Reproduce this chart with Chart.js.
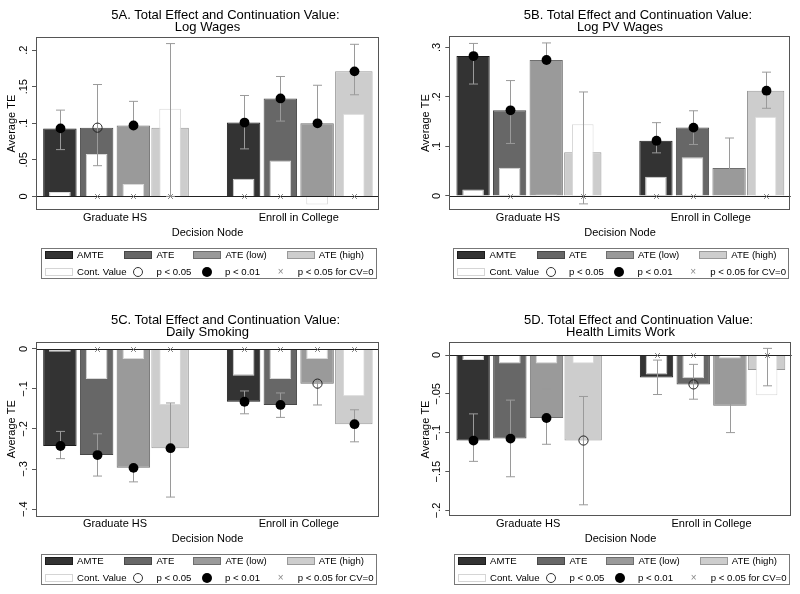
<!DOCTYPE html>
<html>
<head>
<meta charset="utf-8">
<title>Total Effect and Continuation Value</title>
<script src="https://cdn.jsdelivr.net/npm/chart.js@4.4.1/dist/chart.umd.min.js"></script>
<style>
  html, body { margin: 0; padding: 0; background: #fff; }
  body { font-family: "Liberation Sans", Arial, Helvetica, sans-serif; color: #000; }
  #figure { position: relative; width: 800px; height: 594px; overflow: hidden; }
  .panel { position: absolute; width: 400px; height: 289px; }
  .panel canvas { position: absolute; left: 0; top: 0; }
  .title-line { position: absolute; font-size: 13px; line-height: 14px; white-space: nowrap; transform: translateX(-50%); }
  .legend { position: absolute; width: 336px; height: 31px; border: 1px solid #777; box-sizing: border-box; font-size: 9.6px; }
  .legend .txt { position: absolute; white-space: nowrap; line-height: 12px; }
  .legend .sw { position: absolute; width: 28px; height: 8px; box-sizing: border-box; border: 1px solid; }
  .legend .ring { position: absolute; width: 10px; height: 10px; box-sizing: border-box; border: 1px solid #333; border-radius: 50%; }
  .legend .dot { position: absolute; width: 10px; height: 10px; border-radius: 50%; background: #000; }
  .legend .cross { position: absolute; color: #888; font-size: 10px; line-height: 12px; }
</style>
</head>
<body>
<div id="figure"></div>
<script>
const categories = ['Graduate HS', 'Enroll in College'];
const seriesNames = ['AMTE', 'ATE', 'ATE (low)', 'ATE (high)'];

// each row is one series (AMTE, ATE, ATE low, ATE high): [Graduate HS, Enroll in College]
// sig: 'dot' = p < 0.01, 'ring' = p < 0.05 ; zero: 1 = p < 0.05 for CV=0

// 5A. Log Wages
const titleA = ['5A. Total Effect and Continuation Value:', 'Log Wages'];
const teA = [[0.093, 0.101], [0.094, 0.134], [0.097, 0.100], [0.094, 0.171]];
const cvA = [[0.006, 0.024], [0.058, 0.049], [0.017, -0.011], [0.120, 0.113]];
const hiA = [[0.118, 0.138], [0.153, 0.164], [0.130, 0.152], [0.209, 0.208]];
const loA = [[0.064, 0.065], [0.042, 0.103], [0.057, 0.053], [0.000, 0.139]];
const sigA = [['dot', 'dot'], ['ring', 'dot'], ['dot', 'dot'], ['', 'dot']];
const zeroA = [[0, 1], [1, 1], [1, 0], [1, 1]];
const yTicksA = [0, 0.05, 0.1, 0.15, 0.2];

// 5B. Log PV Wages
const titleB = ['5B. Total Effect and Continuation Value:', 'Log PV Wages'];
const teB = [[0.2825, 0.1115], [0.173, 0.138], [0.2745, 0.0565], [0.088, 0.2125]];
const cvB = [[0.013, 0.039], [0.057, 0.078], [0.003, 0.0], [0.145, 0.160]];
const hiB = [[0.308, 0.148], [0.233, 0.172], [0.309, 0.117], [0.210, 0.250]];
const loB = [[0.226, 0.087], [0.106, 0.104], [0.223, 0.011], [-0.016, 0.177]];
const sigB = [['dot', 'dot'], ['dot', 'dot'], ['dot', ''], ['', 'dot']];
const zeroB = [[0, 1], [1, 1], [0, 0], [1, 1]];
const yTicksB = [0, 0.1, 0.2, 0.3];

// 5C. Daily Smoking
const titleC = ['5C. Total Effect and Continuation Value:', 'Daily Smoking'];
const teC = [[-0.2425, -0.132], [-0.265, -0.14], [-0.297, -0.0867], [-0.248, -0.188]];
const cvC = [[-0.007, -0.067], [-0.075, -0.075], [-0.025, -0.025], [-0.14, -0.118]];
const hiC = [[-0.206, -0.105], [-0.212, -0.11], [-0.251, -0.046], [-0.135, -0.152]];
const loC = [[-0.274, -0.162], [-0.3175, -0.171], [-0.332, -0.14], [-0.37, -0.232]];
const sigC = [['dot', 'dot'], ['dot', 'dot'], ['dot', 'ring'], ['dot', 'dot']];
const zeroC = [[0, 1], [1, 1], [1, 1], [1, 1]];
const yTicksC = [0, -0.1, -0.2, -0.3, -0.4];

// 5D. Health Limits Work
const titleD = ['5D. Total Effect and Continuation Value:', 'Health Limits Work'];
const teD = [[-0.110, -0.0288], [-0.1075, -0.0378], [-0.081, -0.0654], [-0.110, -0.0194]];
const cvD = [[-0.0065, -0.025], [-0.011, -0.030], [-0.011, -0.0043], [-0.011, -0.0516]];
const hiD = [[-0.0757, -0.0065], [-0.058, -0.012], [-0.0443, -0.0237], [-0.0533, 0.0086]];
const loD = [[-0.1368, -0.0508], [-0.1566, -0.0568], [-0.1148, -0.0998], [-0.1927, -0.0396]];
const sigD = [['dot', ''], ['dot', 'ring'], ['dot', ''], ['ring', '']];
const zeroD = [[0, 1], [0, 1], [0, 0], [0, 1]];
const yTicksD = [0, -0.05, -0.1, -0.15, -0.2];

Chart.defaults.font.family = '"Liberation Sans", Arial, Helvetica, sans-serif';
Chart.defaults.color = '#000';

const seriesFill = ['#333333', '#676767', '#9a9a9a', '#cdcdcd'];
const seriesEdge = ['#1c1c1c', '#474747', '#6e6e6e', '#999999'];
const seriesBarPct = [0.91, 0.91, 0.91, 1.02];

const panels = [
    { id: 'A', left: 0, top: 0, title: titleA, te: teA, cv: cvA, hi: hiA, lo: loA, sig: sigA, zero: zeroA,
      yTicks: yTicksA, yMin: -0.019, yMax: 0.218, pad: { left: 0, right: 21, top: 37, bottom: 49.7 }, tickPad: 0.5, legendTop: 248.3 },
    { id: 'B', left: 400, top: 0, title: titleB, te: teB, cv: cvB, hi: hiB, lo: loB, sig: sigB, zero: zeroB,
      yTicks: yTicksB, yMin: -0.029, yMax: 0.323, pad: { left: 13.3, right: 9.3, top: 36, bottom: 49.7 }, tickPad: 3.5, legendTop: 248.3 },
    { id: 'C', left: 0, top: 305, title: titleC, te: teC, cv: cvC, hi: hiC, lo: loC, sig: sigC, zero: zeroC,
      yTicks: yTicksC, yMin: -0.419, yMax: 0.018, pad: { left: 0, right: 21, top: 36.7, bottom: 48.3 }, tickPad: 0.5, legendTop: 249.3 },
    { id: 'D', left: 400, top: 305, title: titleD, te: teD, cv: cvD, hi: hiD, lo: loD, sig: sigD, zero: zeroD,
      yTicks: yTicksD, yMin: -0.208, yMax: 0.0164, pad: { left: 13.3, right: 8.3, top: 37.3, bottom: 48.3 }, tickPad: -2.5, legendTop: 249.3 }
];

// Stata style tick labels: .05, -.1, 0
function fmtTick(v) {
    if (v === 0) return '0';
    const s = String(Math.abs(v)).replace(/^0/, '');
    return (v < 0 ? '\u2212' : '') + s;
}

// frame, zero line, error bars and significance markers
function makeMarks(p) {
    return {
        id: 'marks' + p.id,
        afterDatasetsDraw(chart) {
            const { ctx, chartArea: a, scales: { y } } = chart;
            ctx.save();
            ctx.lineWidth = 1;

            const y0 = Math.round(y.getPixelForValue(0)) + 0.5;
            ctx.strokeStyle = '#222';
            ctx.beginPath();
            ctx.moveTo(a.left, y0);
            ctx.lineTo(a.right, y0);
            ctx.stroke();

            ctx.strokeStyle = '#555';
            ctx.strokeRect(Math.round(a.left) + 0.5, Math.round(a.top) + 0.5,
                Math.round(a.right - a.left) - 1, Math.round(a.bottom - a.top) - 1);

            p.te.forEach((row, s) => {
                const meta = chart.getDatasetMeta(s);
                row.forEach((v, c) => {
                    const x = Math.round(meta.data[c].x) + 0.5;
                    const yHi = y.getPixelForValue(p.hi[s][c]);
                    const yLo = y.getPixelForValue(p.lo[s][c]);

                    ctx.strokeStyle = '#9a9a9a';
                    ctx.beginPath();
                    ctx.moveTo(x, yHi); ctx.lineTo(x, yLo);
                    ctx.moveTo(x - 4.5, yHi); ctx.lineTo(x + 4.5, yHi);
                    ctx.moveTo(x - 4.5, yLo); ctx.lineTo(x + 4.5, yLo);
                    ctx.stroke();

                    if (p.zero[s][c]) {
                        ctx.strokeStyle = '#888';
                        ctx.beginPath();
                        ctx.moveTo(x - 2.5, y0 - 2.5); ctx.lineTo(x + 2.5, y0 + 2.5);
                        ctx.moveTo(x - 2.5, y0 + 2.5); ctx.lineTo(x + 2.5, y0 - 2.5);
                        ctx.stroke();
                    }

                    const yv = y.getPixelForValue(v);
                    if (p.sig[s][c] === 'dot') {
                        ctx.fillStyle = '#000';
                        ctx.beginPath();
                        ctx.arc(x, yv, 4.9, 0, Math.PI * 2);
                        ctx.fill();
                    } else if (p.sig[s][c] === 'ring') {
                        ctx.strokeStyle = '#222';
                        ctx.beginPath();
                        ctx.arc(x, yv, 4.6, 0, Math.PI * 2);
                        ctx.stroke();
                    }
                });
            });
            ctx.restore();
        }
    };
}

function addEl(parent, cls, x, y, text) {
    const el = document.createElement('div');
    el.className = cls;
    el.style.left = x + 'px';
    el.style.top = y + 'px';
    if (text !== undefined) el.textContent = text;
    parent.appendChild(el);
    return el;
}

function buildLegend(panelEl, left, top) {
    const box = addEl(panelEl, 'legend', left, top);
    const colX = [3.3, 82.6, 151.6, 245];
    seriesNames.forEach((name, s) => {
        const sw = addEl(box, 'sw', colX[s], 2.2);
        sw.style.background = seriesFill[s];
        sw.style.borderColor = seriesEdge[s];
        addEl(box, 'txt', colX[s] + 32.3, 0.2, name);
    });
    const cvSw = addEl(box, 'sw', colX[0], 18.4);
    cvSw.style.background = '#fff';
    cvSw.style.borderColor = '#d5d5d5';
    addEl(box, 'txt', 35.6, 16.4, 'Cont. Value');
    addEl(box, 'ring', 91.6, 17.4);
    addEl(box, 'txt', 115, 16.4, 'p < 0.05');
    addEl(box, 'dot', 160, 17.4);
    addEl(box, 'txt', 183.6, 16.4, 'p < 0.01');
    addEl(box, 'cross', 236.3, 16.4, '\u00d7');
    addEl(box, 'txt', 256.3, 16.4, 'p < 0.05 for CV=0');
}

function buildPanel(p) {
    const el = addEl(document.getElementById('figure'), 'panel', p.left, p.top);
    const canvas = document.createElement('canvas');
    canvas.width = 400;
    canvas.height = 289;
    el.appendChild(canvas);

    const plotL = p.pad.left + 36;
    const plotR = 400 - p.pad.right;
    const mid = (plotL + plotR) / 2;

    addEl(el, 'title-line', mid + 18, 8, p.title[0]);
    addEl(el, 'title-line', mid, 20, p.title[1]);
    buildLegend(el, mid - 167, p.legendTop);

    const datasets = [];
    p.te.forEach((row, s) => {
        datasets.push({
            label: seriesNames[s],
            data: row.map((v, i) => ({ x: i, y: v })),
            backgroundColor: seriesFill[s],
            borderColor: seriesEdge[s],
            borderWidth: 1,
            stack: 's' + s,
            order: 2,
            barPercentage: seriesBarPct[s],
            categoryPercentage: 0.8
        });
    });
    p.cv.forEach((row, s) => {
        datasets.push({
            label: 'Cont. Value',
            data: row.map((v, i) => ({ x: i, y: v })),
            backgroundColor: '#ffffff',
            borderColor: '#d9d9d9',
            borderWidth: 1,
            stack: 's' + s,
            order: 1,
            barPercentage: 0.59,
            categoryPercentage: 0.8
        });
    });

    new Chart(canvas.getContext('2d'), {
        type: 'bar',
        data: { datasets },
        options: {
            responsive: false,
            animation: false,
            layout: { padding: p.pad, autoPadding: false },
            plugins: {
                legend: { display: false },
                tooltip: { enabled: false },
                title: { display: false }
            },
            scales: {
                x: {
                    type: 'linear',
                    offset: false,
                    bounds: 'data',
                    min: -0.43,
                    max: 1.437,
                    grid: { display: false, drawTicks: false, offset: false },
                    border: { display: false },
                    afterBuildTicks: sc => { sc.ticks = categories.map((_, i) => ({ value: i })); },
                    afterFit: sc => { sc.height = 29; },
                    ticks: { callback: v => categories[v], font: { size: 11 }, padding: 1, maxRotation: 0, autoSkip: false },
                    title: { display: true, text: 'Decision Node', font: { size: 11 }, padding: { top: 0, bottom: 0 } }
                },
                y: {
                    type: 'linear',
                    stacked: false,
                    bounds: 'data',
                    min: p.yMin,
                    max: p.yMax,
                    afterBuildTicks: sc => { sc.ticks = p.yTicks.map(v => ({ value: v })); },
                    afterFit: sc => { sc.width = 36; },
                    grid: { display: true, drawOnChartArea: false, drawTicks: true, tickLength: 4, tickColor: '#555', lineWidth: 1 },
                    border: { display: false },
                    ticks: { callback: v => fmtTick(v), font: { size: 11 }, minRotation: 90, maxRotation: 90, crossAlign: 'center', padding: p.tickPad },
                    title: { display: true, text: 'Average TE', font: { size: 11 }, padding: { top: 5.7, bottom: 0 } }
                }
            }
        },
        plugins: [makeMarks(p)]
    });
}

panels.forEach(buildPanel);
</script>
</body>
</html>
